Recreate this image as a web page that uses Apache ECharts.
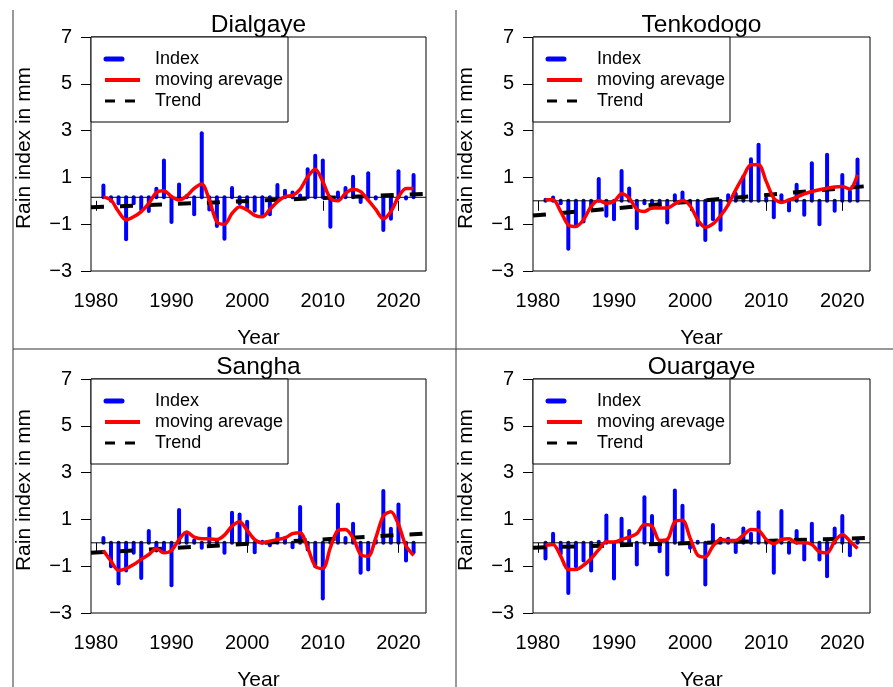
<!DOCTYPE html>
<html lang="en">
<head>
<meta charset="UTF-8">
<title>Rain index</title>
<script src="https://cdn.jsdelivr.net/npm/echarts@6/dist/echarts.min.js"></script>
<style>
    html, body { margin: 0; padding: 0; background: #fff; }
    #chart { width: 893px; height: 687px; }
</style>
</head>
<body>
<div id="chart"></div>
<script>
// station data
var years = [1981,1982,1983,1984,1985,1986,1987,1988,1989,1990,
    1991,1992,1993,1994,1995,1996,1997,1998,1999,2000,
    2001,2002,2003,2004,2005,2006,2007,2008,2009,2010,
    2011,2012,2013,2014,2015,2016,2017,2018,2019,2020,
    2021,2022];
var yearTicks = [1980, 1990, 2000, 2010, 2020];
var stations = ['Dialgaye', 'Tenkodogo', 'Sangha', 'Ouargaye'];

var dialgayeIndex = [0.65,0.0,-0.1,-1.64,-0.1,-0.37,-0.44,0.52,1.72,-0.91,
    0.7,0.2,-0.57,2.89,-0.37,-1.08,-1.62,0.55,-0.1,-0.3,
    -0.42,-0.57,-0.57,0.68,0.43,0.35,0.23,1.35,1.92,1.72,
    -1.11,0.35,0.55,1.03,-0.05,1.18,0.1,-1.25,-0.77,1.26,
    0.1,1.1];
var dialgayeAvg = [0.17,0.03,-0.46,-0.82,-0.68,-0.46,-0.11,0.35,0.43,0.18,
    0.03,0.2,0.53,0.72,0.03,-0.9,-1.0,-0.54,-0.25,-0.39,
    -0.62,-0.68,-0.37,-0.04,0.18,0.23,0.49,1.03,1.35,0.82,
    0.11,0.0,0.32,0.49,0.39,0.03,-0.37,-0.77,-0.46,0.17,
    0.53,0.53];

var tenkodogoIndex = [0.05,0.14,-0.1,-2.05,-1.07,-0.88,-0.3,0.93,-0.64,-0.79,
    1.27,0.53,-1.17,-0.1,-0.3,-0.2,-0.93,0.24,0.36,-0.17,
    -1.03,-1.67,-0.79,-1.24,0.24,0.3,1.04,1.78,2.4,0.1,
    -0.7,0.24,-0.41,0.69,-0.6,1.61,-1.0,1.97,-0.43,1.1,
    0.4,1.76];
var tenkodogoAvg = [0.04,0.04,-0.46,-1.03,-1.1,-0.81,-0.24,0.01,-0.1,-0.03,
    0.3,0.11,-0.36,-0.46,-0.31,-0.31,-0.31,-0.13,0.01,-0.21,
    -0.81,-1.13,-0.99,-0.64,-0.17,0.47,1.04,1.54,1.54,0.83,
    0.11,-0.07,0.04,0.16,0.3,0.4,0.47,0.54,0.59,0.61,
    0.5,1.11];

var sanghaIndex = [0.21,-1.0,-1.74,-1.18,-0.43,-1.5,0.5,-0.33,-0.36,-1.81,
    1.4,0.4,0.1,-0.21,0.61,0.1,-0.43,1.28,1.21,0.9,
    -0.4,0.05,-0.1,0.39,0.2,-0.19,1.53,-0.29,-1.0,-2.38,
    0.15,1.64,0.21,0.81,-1.28,-1.14,0.1,2.21,0.6,1.64,
    -0.76,-0.4];
var sanghaAvg = [-0.33,-0.78,-1.18,-1.1,-0.93,-0.71,-0.5,-0.24,-0.43,-0.33,
    0.14,0.46,0.24,0.17,0.17,0.14,0.33,0.71,0.9,0.53,
    0.14,0.0,0.07,0.14,0.21,0.39,0.43,-0.21,-1.0,-1.1,
    -0.21,0.53,0.57,0.21,-0.5,-0.57,0.21,1.14,1.33,0.78,
    -0.14,-0.54];

var ouargayeIndex = [-0.67,0.39,-0.47,-2.14,-1.0,-0.76,-1.18,0.05,1.17,-1.53,
    1.03,0.5,-0.93,1.95,1.14,-0.36,-1.36,2.24,1.58,-0.21,
    0.05,-1.78,0.76,0.17,0.17,-0.39,0.61,0.39,1.31,0.1,
    -1.28,1.36,-0.43,0.5,-0.71,0.81,-0.71,-1.43,0.61,1.14,
    -0.53,0.07];
var ouargayeAvg = [-0.1,-0.07,-0.57,-1.14,-1.14,-0.96,-0.67,-0.29,0.04,0.03,
    0.14,0.24,0.39,0.78,0.71,0.1,0.14,0.9,0.96,0.21,
    -0.53,-0.61,-0.14,0.14,0.1,0.1,0.33,0.57,0.53,0.14,
    -0.04,0.14,0.17,0.0,0.0,-0.07,-0.39,-0.43,0.07,0.36,
    0.07,-0.24];

// trend line value at the left and right edge of each plot
var trendEnds = [[-0.28, 0.30], [-0.63, 0.64], [-0.43, 0.40], [-0.21, 0.21]];
// reference line the index bars hang from
var baseLevels = [0.15, 0, 0, 0];

var indexData = [dialgayeIndex, tenkodogoIndex, sanghaIndex, ouargayeIndex];
var avgData = [dialgayeAvg, tenkodogoAvg, sanghaAvg, ouargayeAvg];

var X_MIN = 1979.36, X_MAX = 2023.64;
var FONT = "'Liberation Sans', Arial, sans-serif";

// panel boxes in px
var boxes = [
    {left: 91, top: 37, width: 335, height: 234},
    {left: 533, top: 37, width: 337, height: 234},
    {left: 91, top: 379, width: 335, height: 234},
    {left: 533, top: 379, width: 337, height: 234}
];

function minusFmt(v) {
    return String(v).replace('-', '\u2212');
}

var grids = [], xAxes = [], yAxes = [], series = [], graphics = [];

boxes.forEach(function (b, i) {
    grids.push({
        left: b.left, top: b.top, width: b.width, height: b.height,
        show: true, borderColor: '#000', borderWidth: 1,
        backgroundColor: 'transparent', outerBoundsMode: 'none'
    });
    xAxes.push({
        type: 'value', gridIndex: i, min: X_MIN, max: X_MAX,
        axisLine: {show: false},
        splitLine: {show: false},
        axisTick: {show: true, inside: false, length: 10, customValues: yearTicks,
            lineStyle: {color: '#000', width: 1}},
        axisLabel: {show: true, customValues: yearTicks, margin: 20, color: '#000',
            fontSize: 20, fontFamily: FONT, formatter: function (v) { return String(v); }}
    });
    yAxes.push({
        type: 'value', gridIndex: i, min: -3, max: 7, interval: 2,
        axisLine: {show: false},
        splitLine: {show: false},
        axisTick: {show: true, inside: false, length: 10, lineStyle: {color: '#000', width: 1}},
        axisLabel: {show: true, margin: 19, color: '#000', fontSize: 20, fontFamily: FONT,
            formatter: minusFmt}
    });

    var base = baseLevels[i];
    var bars = years.map(function (y, k) { return [y, indexData[i][k], base]; });
    series.push({
        type: 'custom', xAxisIndex: i, yAxisIndex: i, clip: true,
        encode: {x: 0, y: 1},
        data: bars,
        renderItem: function (params, api) {
            var p0 = api.coord([api.value(0), api.value(2)]);
            var p1 = api.coord([api.value(0), api.value(1)]);
            return {
                type: 'line',
                shape: {x1: p0[0], y1: p0[1], x2: p1[0], y2: p1[1]},
                style: {stroke: '#0000ff', lineWidth: 4, lineCap: 'round'}
            };
        },
        z: 2
    });
    // reference line
    series.push({
        type: 'line', xAxisIndex: i, yAxisIndex: i, symbol: 'none', silent: true,
        data: [[X_MIN, base], [X_MAX, base]],
        lineStyle: {color: '#000', width: 1}, z: 3
    });
    // trend
    series.push({
        type: 'line', xAxisIndex: i, yAxisIndex: i, symbol: 'none', silent: true,
        data: [[X_MIN, trendEnds[i][0]], [X_MAX, trendEnds[i][1]]],
        lineStyle: {color: '#000', width: 4, type: [13, 16]}, z: 4
    });
    // moving average
    series.push({
        type: 'line', xAxisIndex: i, yAxisIndex: i, symbol: 'none', silent: true,
        smooth: 0.3,
        data: years.map(function (y, k) { return [y, avgData[i][k]]; }),
        lineStyle: {color: '#ff0000', width: 3.5}, z: 5
    });

    // legend box
    var L = b.left, T = b.top;
    graphics.push({type: 'rect', shape: {x: L, y: T, width: 197, height: 85},
        style: {fill: '#fff', stroke: '#000', lineWidth: 1}, z: 10});
    graphics.push({type: 'line', shape: {x1: L + 15, y1: T + 22, x2: L + 31, y2: T + 22},
        style: {stroke: '#0000ff', lineWidth: 5, lineCap: 'round'}, z: 11});
    graphics.push({type: 'line', shape: {x1: L + 14, y1: T + 43, x2: L + 49, y2: T + 43},
        style: {stroke: '#ff0000', lineWidth: 4}, z: 11});
    graphics.push({type: 'line', shape: {x1: L + 14, y1: T + 64, x2: L + 44, y2: T + 64},
        style: {stroke: '#000', lineWidth: 3, lineDash: [10, 10]}, z: 11});
    ['Index', 'moving arevage', 'Trend'].forEach(function (t, j) {
        graphics.push({type: 'text', x: L + 64, y: T + 22 + 21 * j, z: 11,
            style: {text: t, font: '18px ' + FONT, fill: '#000',
                align: 'left', verticalAlign: 'middle',
                textAlign: 'left', textVerticalAlign: 'middle'}});
    });

    var cx = b.left + b.width / 2;
    // station title
    graphics.push({type: 'text', x: cx, y: b.top - 12, z: 11,
        style: {text: stations[i], font: '24.5px ' + FONT, fill: '#000',
            align: 'center', verticalAlign: 'middle',
            textAlign: 'center', textVerticalAlign: 'middle'}});
    // x axis name
    graphics.push({type: 'text', x: cx, y: b.top + 301, z: 11,
        style: {text: 'Year', font: '21px ' + FONT, fill: '#000',
            align: 'center', verticalAlign: 'middle',
            textAlign: 'center', textVerticalAlign: 'middle'}});
    // y axis name
    graphics.push({type: 'text', x: b.left - 67, y: b.top + 111, rotation: Math.PI / 2, z: 11,
        style: {text: 'Rain index in mm', font: '21px ' + FONT, fill: '#000',
            align: 'center', verticalAlign: 'middle',
            textAlign: 'center', textVerticalAlign: 'middle'}});
});

// panel separators
graphics.push({type: 'line', shape: {x1: 13, y1: 10, x2: 13, y2: 687}, style: {stroke: '#333', lineWidth: 1}});
graphics.push({type: 'line', shape: {x1: 456, y1: 10, x2: 456, y2: 687}, style: {stroke: '#333', lineWidth: 1}});
graphics.push({type: 'line', shape: {x1: 13, y1: 349, x2: 893, y2: 349}, style: {stroke: '#333', lineWidth: 1}});

var chart = echarts.init(document.getElementById('chart'), null, {renderer: 'canvas'});
chart.setOption({
    animation: false,
    backgroundColor: '#fff',
    grid: grids,
    xAxis: xAxes,
    yAxis: yAxes,
    series: series,
    graphic: graphics
});
</script>
</body>
</html>
